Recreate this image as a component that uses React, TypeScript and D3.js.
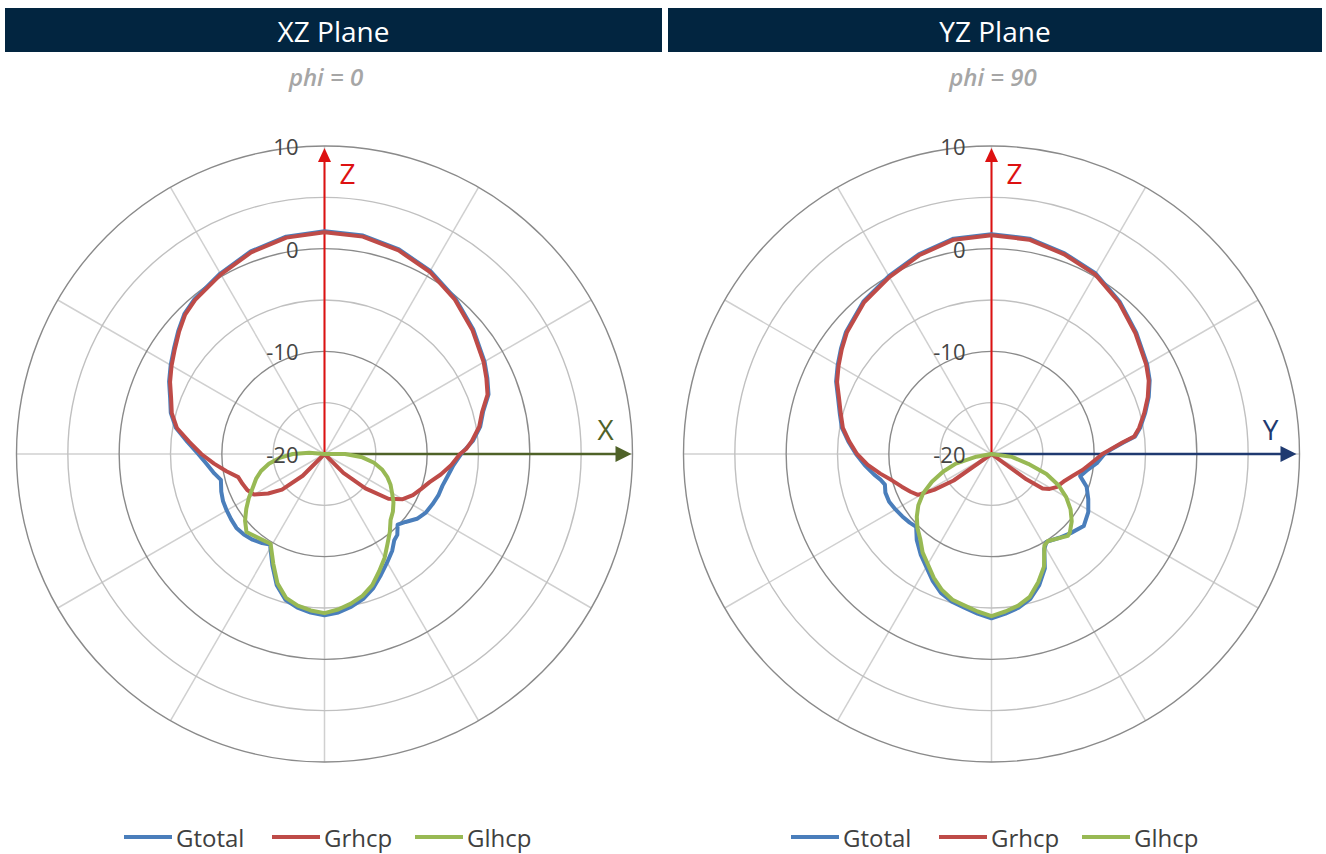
import React from "react";
import * as d3 from "d3";

// ---------- data: [angle from +Z (deg, clockwise), gain dBi] ----------
const seriesNames = ["Gtotal", "Grhcp", "Glhcp"];
const seriesColors = ["#4a7ebb", "#be4b48", "#98b954"];

const ringValues = [-15, -10, -5, 0, 5, 10];
const majorRings = [-10, 0, 10];
const tickLabels = [10, 0, -10, -20];
const spokeAngles = [0, 30, 60, 90, 120, 150, 180, 210, 240, 270, 300, 330];

const xzTotal: [number, number][] = [
  [0, 1.7], [10, 1.6], [20, 1.2], [30, 0.6], [40, -0.2], [50, -1.1], [60, -2.0], [65, -2.5],
  [70, -3.0], [75, -4.0], [80, -4.6], [85, -5.5], [90, -6.7], [95, -7.4], [100, -7.8], [105, -8.1],
  [110, -8.2], [115, -8.4], [120, -8.6], [125, -9.0], [130, -9.7], [134, -10.1], [138, -9.4],
  [141, -9.2], [145, -8.5], [150, -7.8], [155, -7.0], [160, -6.1], [165, -5.4], [170, -4.9],
  [175, -4.5], [180, -4.3], [185, -4.5], [190, -4.8], [195, -5.3], [200, -6.4], [205, -8.0],
  [211, -9.7], [215, -9.4], [220, -9.1], [225, -8.9], [230, -8.8], [235, -8.9], [240, -9.0],
  [245, -9.1], [250, -9.3], [256, -9.6], [260, -9.1], [265, -8.5], [270, -7.7], [275, -6.6],
  [280, -5.3], [285, -4.5], [290, -4.0], [295, -3.3], [300, -2.7], [305, -2.1], [310, -1.4],
  [315, -0.7], [320, -0.3], [330, 0.3], [340, 1.0], [350, 1.5],
];
const xzRhcp: [number, number][] = [
  [0, 1.6], [10, 1.5], [20, 1.1], [30, 0.5], [40, -0.3], [50, -1.2], [60, -2.1], [65, -2.6],
  [70, -3.1], [75, -4.1], [80, -4.7], [85, -5.6], [88, -6.2], [90, -6.8], [95, -7.6], [100, -8.5],
  [105, -9.4], [110, -10.0], [115, -10.5], [120, -11.2], [125, -12.4], [130, -14.8], [135, -17.4],
  [140, -20], [220, -20], [225, -17.0], [230, -14.6], [235, -13.3], [240, -12.1], [245, -11.7],
  [250, -11.5], [255, -11.3], [260, -10.3], [265, -9.2], [270, -8.0], [275, -6.8], [280, -5.4],
  [285, -4.6], [290, -4.1], [295, -3.4], [300, -2.8], [305, -2.2], [310, -1.5], [315, -0.8],
  [320, -0.4], [330, 0.2], [340, 0.9], [350, 1.4],
];
const xzLhcp: [number, number][] = [
  [85, -20], [90, -18.0], [95, -16.3], [100, -15.1], [105, -14.2], [110, -13.5], [115, -12.9],
  [120, -12.4], [125, -11.8], [130, -11.3], [135, -10.9], [140, -10.1], [145, -9.3], [150, -8.3],
  [155, -7.4], [160, -6.4], [165, -5.7], [170, -5.2], [175, -4.8], [180, -4.5], [185, -4.7],
  [190, -5.0], [195, -5.5], [200, -6.6], [205, -8.2], [211, -9.8], [218, -9.6], [225, -9.25],
  [230, -9.9], [235, -10.7], [240, -11.5], [245, -12.3], [250, -12.9], [255, -13.6], [260, -14.5],
  [265, -15.6], [270, -16.9], [275, -18.5], [280, -20],
];

const yzTotal: [number, number][] = [
  [0, 1.4], [10, 1.3], [20, 0.8], [30, 0.3], [40, -0.6], [50, -1.6], [60, -2.5], [65, -3.0],
  [70, -3.7], [75, -4.5], [80, -5.3], [83, -5.9], [85, -7.1], [88, -8.4], [90, -9.0], [95, -9.7],
  [100, -10.6], [104, -11.1], [109, -10.2], [115, -9.6], [121, -9.0], [128, -8.6], [135, -9.1],
  [141, -9.5], [148, -9.9], [151, -9.4], [155, -7.7], [160, -6.4], [165, -5.4], [170, -4.8],
  [175, -4.4], [180, -4.0], [185, -4.4], [190, -4.8], [195, -5.1], [200, -5.6], [205, -6.4],
  [210, -7.3], [215, -8.0], [221, -8.9], [226, -9.8], [230, -9.6], [235, -9.4], [240, -9.2],
  [245, -9.0], [250, -9.0], [254, -9.2], [257, -8.9], [260, -8.4], [265, -7.6], [270, -6.8],
  [275, -6.0], [280, -5.2], [285, -4.7], [290, -4.1], [295, -3.3], [300, -2.7], [305, -2.1],
  [310, -1.5], [320, -0.6], [330, 0.0], [340, 0.7], [350, 1.3],
];
const yzRhcp: [number, number][] = [
  [0, 1.3], [10, 1.2], [20, 0.7], [30, 0.2], [40, -0.7], [50, -1.7], [60, -2.6], [65, -3.1],
  [70, -3.8], [75, -4.6], [80, -5.4], [83, -6.0], [85, -7.2], [88, -8.5], [90, -9.2], [95, -10.2],
  [100, -11.0], [105, -11.8], [110, -12.4], [117, -12.9], [121, -13.4], [124, -14.0], [126, -15.8],
  [129, -20], [232, -20], [235, -15.5], [238, -13.4], [241, -11.8], [245, -11.3], [250, -10.7],
  [255, -10.0], [260, -9.0], [265, -7.9], [270, -6.9], [275, -6.1], [280, -5.3], [285, -4.8],
  [290, -4.2], [295, -3.4], [300, -2.8], [305, -2.2], [310, -1.6], [320, -0.7], [330, -0.1],
  [340, 0.6], [350, 1.2],
];
const yzLhcp: [number, number][] = [
  [95, -20], [98, -18.0], [105, -16.3], [110, -14.3], [115, -12.8], [120, -11.6], [125, -10.6],
  [130, -9.8], [135, -9.2], [137, -9.1], [147, -9.9], [150, -9.7], [155, -7.9], [160, -6.7],
  [165, -5.6], [170, -5.0], [175, -4.6], [180, -4.2], [185, -4.6], [190, -5.0], [195, -5.3],
  [200, -5.9], [205, -6.7], [210, -7.6], [215, -8.3], [220, -9.2], [225, -9.8], [230, -10.5],
  [235, -11.3], [240, -12.3], [245, -13.6], [250, -15.0], [255, -16.4], [260, -18.5], [265, -20],
];

// ---------- layout ----------
const W = 1326;
const H = 854;
const R = 308;
const FONT = "'Open Sans', 'DejaVu Sans', sans-serif";

const rScale = d3.scaleLinear().domain([-20, 10]).range([0, R]).clamp(true);
const toRad = (deg: number) => (deg * Math.PI) / 180;

const radial = d3
  .lineRadial<[number, number]>()
  .angle((d) => toRad(d[0]))
  .radius((d) => rScale(d[1]))
  .curve(d3.curveLinearClosed);

type PanelProps = {
  ox: number;
  headerX: number;
  headerW: number;
  title: string;
  subtitle: string;
  hLabel: string;
  hColor: string;
  hTip: number;
  total: [number, number][];
  rhcp: [number, number][];
  lhcp: [number, number][];
};

function Panel(p: PanelProps) {
  const cx = 324.5 + p.ox;
  const cy = 454;
  const zTip = 306;
  const legendX = [124, 272, 415];
  const series = [p.total, p.rhcp, p.lhcp];
  return (
    <g>
      <rect x={p.headerX} y={8} width={p.headerW} height={44} fill="#022540" />
      <text
        x={p.headerX + p.headerW / 2}
        y={31}
        fill="#ffffff"
        fontFamily={FONT}
        fontSize={28}
        textAnchor="middle"
        dominantBaseline="central"
      >
        {p.title}
      </text>
      <text
        x={326 + p.ox}
        y={76}
        fill="#a6a6a6"
        fontFamily={FONT}
        fontSize={24}
        fontStyle="italic"
        fontWeight={600}
        textAnchor="middle"
        dominantBaseline="central"
      >
        {p.subtitle}
      </text>

      <g transform={`translate(${cx},${cy})`}>
        {spokeAngles.map((a) => (
          <line
            key={"s" + a}
            x1={0}
            y1={0}
            x2={R * Math.sin(toRad(a))}
            y2={-R * Math.cos(toRad(a))}
            stroke="#d0d0d0"
            strokeWidth={1.5}
          />
        ))}
        {ringValues.map((v) => (
          <circle
            key={"r" + v}
            r={rScale(v)}
            fill="none"
            stroke={majorRings.includes(v) ? "#8a8a8a" : "#c0c0c0"}
            strokeWidth={1.4}
          />
        ))}

        {/* Z axis */}
        <line x1={0} y1={0} x2={0} y2={-zTip + 12} stroke="#dd1111" strokeWidth={2} />
        <path d={`M0,${-zTip} L-6.5,${-zTip + 14} L6.5,${-zTip + 14} Z`} fill="#dd1111" />
        <text
          x={23}
          y={-281}
          fill="#dd1111"
          fontFamily={FONT}
          fontSize={28}
          textAnchor="middle"
          dominantBaseline="central"
        >
          Z
        </text>

        {/* horizontal axis */}
        <line x1={0} y1={0} x2={p.hTip - 13} y2={0} stroke={p.hColor} strokeWidth={2.5} />
        <path d={`M${p.hTip},0 L${p.hTip - 16},-8 L${p.hTip - 16},8 Z`} fill={p.hColor} />
        <text
          x={p.hTip - 26}
          y={-25}
          fill={p.hColor}
          fontFamily={FONT}
          fontSize={28}
          textAnchor="middle"
          dominantBaseline="central"
        >
          {p.hLabel}
        </text>

        {series.map((s, i) => (
          <path
            key={"c" + i}
            d={radial(s) || ""}
            fill="none"
            stroke={seriesColors[i]}
            strokeWidth={4}
            strokeLinejoin="round"
          />
        ))}

        {tickLabels.map((v) => (
          <text
            key={"t" + v}
            x={-26}
            y={-rScale(v)}
            fill="#454545"
            fontFamily={FONT}
            fontSize={22}
            textAnchor="end"
            dominantBaseline="central"
          >
            {v}
          </text>
        ))}
      </g>

      {seriesNames.map((n, i) => (
        <g key={"l" + n}>
          <line
            x1={legendX[i] + p.ox}
            x2={legendX[i] + 48 + p.ox}
            y1={837}
            y2={837}
            stroke={seriesColors[i]}
            strokeWidth={4}
          />
          <text
            x={legendX[i] + 52 + p.ox}
            y={837}
            fill="#404040"
            fontFamily={FONT}
            fontSize={24}
            dominantBaseline="central"
          >
            {n}
          </text>
        </g>
      ))}
    </g>
  );
}

export default function App() {
  return (
    <svg
      width={W}
      height={H}
      style={{ position: "absolute", left: 0, top: 0, display: "block", background: "#ffffff" }}
    >
      <rect x={0} y={0} width={W} height={H} fill="#ffffff" />
      <Panel
        ox={0}
        headerX={5}
        headerW={657}
        title="XZ Plane"
        subtitle="phi = 0"
        hLabel="X"
        hColor="#4f6228"
        hTip={307}
        total={xzTotal}
        rhcp={xzRhcp}
        lhcp={xzLhcp}
      />
      <Panel
        ox={667}
        headerX={668}
        headerW={654}
        title="YZ Plane"
        subtitle="phi = 90"
        hLabel="Y"
        hColor="#1f3a70"
        hTip={305}
        total={yzTotal}
        rhcp={yzRhcp}
        lhcp={yzLhcp}
      />
    </svg>
  );
}
